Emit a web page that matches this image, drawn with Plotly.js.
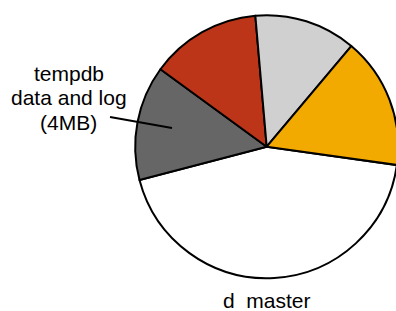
<!DOCTYPE html>
<html>
<head>
<meta charset="utf-8">
<script src="https://cdn.plot.ly/plotly-3.0.1.min.js"></script>
<style>html,body{margin:0;padding:0;overflow:hidden;background:#fff;}</style>
</head>
<body>
<div id="chart"></div>
<script>
// Slice order: clockwise from the white/orange boundary
var labels = ["master", "tempdb data and log", "red", "lightgray", "orange"];
var values = [43.7, 14.1, 13.6, 12.5, 16.1];
var colors = ["#FFFFFF", "#666666", "#BC3519", "#D0D0D0", "#F2AA00"];
var tempdbLines = ["tempdb", "data and log", "(4MB)"];
var bottomLabel = "d\u00a0\u00a0master";

var W = 400, H = 311;
var cx = 266.7, cy = 146.7, R = 131.5;

var data = [{
  type: "pie",
  labels: labels,
  values: values,
  sort: false,
  direction: "clockwise",
  rotation: 98,
  marker: {colors: colors, line: {color: "#000000", width: 2}},
  textinfo: "none",
  hoverinfo: "none",
  showlegend: false,
  domain: {x: [(cx - R) / W, (cx + R) / W], y: [1 - (cy + R) / H, 1 - (cy - R) / H]}
}];

var fontSpec = {family: "Liberation Sans, Arial, sans-serif", size: 21, color: "#000"};
var annotations = [];
var ys = [73, 97, 122];
for (var i = 0; i < tempdbLines.length; i++) {
  annotations.push({xref: "paper", yref: "paper", x: 68.5 / W, y: 1 - ys[i] / H,
    xanchor: "center", yanchor: "middle", text: tempdbLines[i], showarrow: false, font: fontSpec});
}
annotations.push({xref: "paper", yref: "paper", x: 266.5 / W, y: 1 - 300.5 / H,
  xanchor: "center", yanchor: "middle", text: bottomLabel, showarrow: false, font: fontSpec});

var layout = {
  width: W, height: H,
  margin: {l: 0, r: 0, t: 0, b: 0},
  paper_bgcolor: "#fff",
  annotations: annotations,
  shapes: [{type: "line", xref: "paper", yref: "paper",
    x0: 110 / W, y0: 1 - 117 / H, x1: 172 / W, y1: 1 - 128 / H,
    line: {color: "#000", width: 2}}]
};

Plotly.newPlot("chart", data, layout, {displayModeBar: false, staticPlot: true});
</script>
</body>
</html>
